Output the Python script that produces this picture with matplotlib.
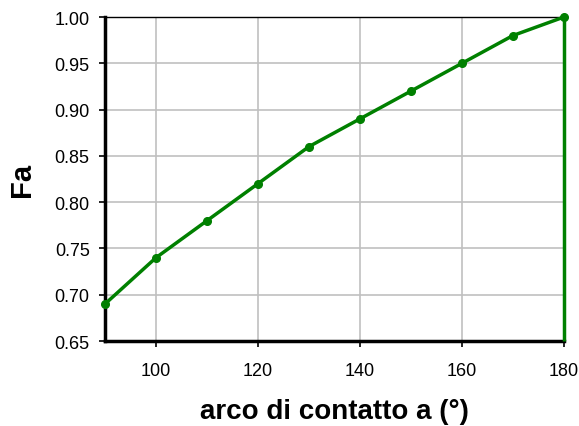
import matplotlib.pyplot as plt
import numpy as np

plt.rcParams['font.family'] = ['Liberation Sans', 'DejaVu Sans']

# arco di contatto (gradi) e fattore Fa
arco = [90, 100, 110, 120, 130, 140, 150, 160, 170, 180]
fa = [0.69, 0.74, 0.78, 0.82, 0.86, 0.89, 0.92, 0.95, 0.98, 1.00]
x_ticks = [100, 120, 140, 160, 180]
y_ticks = [0.65, 0.70, 0.75, 0.80, 0.85, 0.90, 0.95, 1.00]

fig = plt.figure(figsize=(5.79, 4.27), dpi=100)
ax = fig.add_axes([0.1813, 0.199, 0.7927, 0.7588])

green = '#008000'
ax.plot(arco, fa, '-o', color=green, lw=2.5, ms=5.5, zorder=4, clip_on=False)
ax.vlines(arco[-1], y_ticks[0], fa[-1], color=green, lw=2.5, zorder=4, clip_on=False)

ax.set_xlim(90, 180)
ax.set_ylim(0.65, 1.00)
ax.set_xticks(x_ticks)
ax.set_yticks(y_ticks)
ax.set_yticklabels([f'{v:.2f}' for v in y_ticks])
ax.grid(True, color='#c0c0c0', lw=1.2)
ax.set_axisbelow(True)

for side in ['left', 'bottom']:
    ax.spines[side].set_linewidth(2.5)
ax.spines['top'].set_linewidth(1.0)
ax.spines['right'].set_visible(False)
ax.tick_params(direction='out', length=4, width=1.2, labelsize=13)
ax.tick_params(axis='y', pad=7)
ax.tick_params(axis='x', pad=11)

ax.set_xlabel('arco di contatto a (°)', fontsize=20, fontweight='bold')
ax.set_ylabel('Fa', fontsize=21, fontweight='bold')
ax.xaxis.set_label_coords(0.5, -0.176)
ax.yaxis.set_label_coords(-0.15, 0.5)

fig.savefig('out.png', dpi=100)
